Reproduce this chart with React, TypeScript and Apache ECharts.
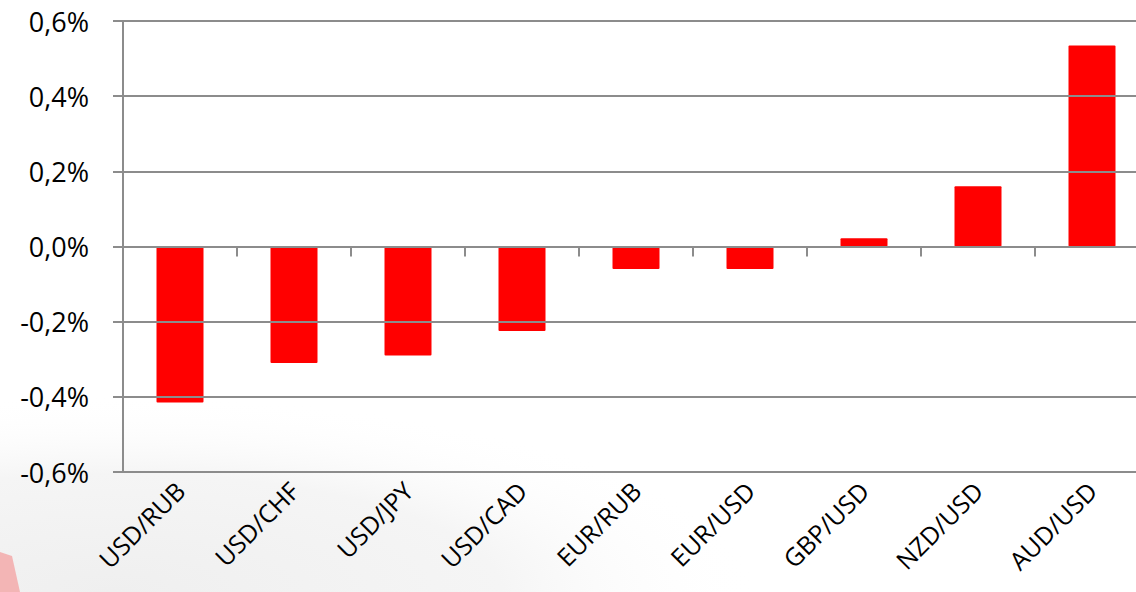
import React, { useEffect, useRef } from "react";
import * as echarts from "echarts";

const categories = ["USD/RUB", "USD/CHF", "USD/JPY", "USD/CAD", "EUR/RUB", "EUR/USD", "GBP/USD", "NZD/USD", "AUD/USD"];
const values = [-0.415, -0.31, -0.29, -0.225, -0.06, -0.06, 0.022, 0.16, 0.535];
const yMin = -0.6;
const yMax = 0.6;
const yStep = 0.2;

const GRAY = "#8c8c8c";

export default function App() {
  const ref = useRef<HTMLDivElement>(null);
  useEffect(() => {
    if (!ref.current) return;
    const chart = echarts.init(ref.current, undefined, { renderer: "svg" });
    chart.setOption({
      animation: false,
      backgroundColor: "#ffffff",
      graphic: [
        {
          type: "rect",
          z: -10,
          shape: { x: 0, y: 360, width: 760, height: 232 },
          style: {
            fill: new echarts.graphic.RadialGradient(0.15, 1, 0.85, [
              { offset: 0, color: "#efefef" },
              { offset: 0.6, color: "#f5f5f5" },
              { offset: 1, color: "rgba(255,255,255,0)" },
            ]),
          },
          silent: true,
        },
        {
          type: "polygon",
          z: -9,
          shape: { points: [[0, 552], [12, 556], [20, 592], [0, 592]] },
          style: { fill: "#f3b5b5" },
          silent: true,
        },
      ],
      grid: { left: 123, right: 0, top: 21, bottom: 120, containLabel: false },
      xAxis: [
        {
          type: "category",
          data: categories,
          z: 5,
          axisLine: { onZero: true, lineStyle: { color: GRAY, width: 2 } },
          axisTick: { show: true, length: 10, lineStyle: { color: GRAY, width: 2 } },
          axisLabel: { show: false },
        },
        {
          type: "category",
          data: categories,
          position: "bottom",
          axisLine: { show: false, onZero: false },
          axisTick: { show: false },
          axisLabel: {
            rotate: 45,
            margin: 14,
            fontFamily: "Open Sans",
            fontSize: 25,
            color: "#000000",
            interval: 0,
          },
        },
      ],
      yAxis: {
        type: "value",
        min: yMin,
        max: yMax,
        interval: yStep,
        z: 5,
        axisLine: { show: true, lineStyle: { color: GRAY, width: 2 } },
        axisTick: { show: true, length: 10, lineStyle: { color: GRAY, width: 2 } },
        splitLine: { show: true, lineStyle: { color: GRAY, width: 2 } },
        axisLabel: {
          margin: 34,
          fontFamily: "Open Sans",
          fontSize: 27,
          color: "#000000",
          formatter: (v: number) => (Math.abs(v) < 1e-9 ? 0 : v).toFixed(1).replace(".", ",") + "%",
        },
      },
      series: [
        {
          type: "bar",
          xAxisIndex: 0,
          data: values,
          barWidth: 47,
          itemStyle: { color: "#ff0000", borderRadius: 1 },
        },
      ],
    });
    return () => chart.dispose();
  }, []);
  return (
    <div style={{ width: 1136, height: 592, position: "absolute", left: 0, top: 0, overflow: "hidden" }}>
      <div ref={ref} style={{ width: 1149, height: 592 }} />
    </div>
  );
}
